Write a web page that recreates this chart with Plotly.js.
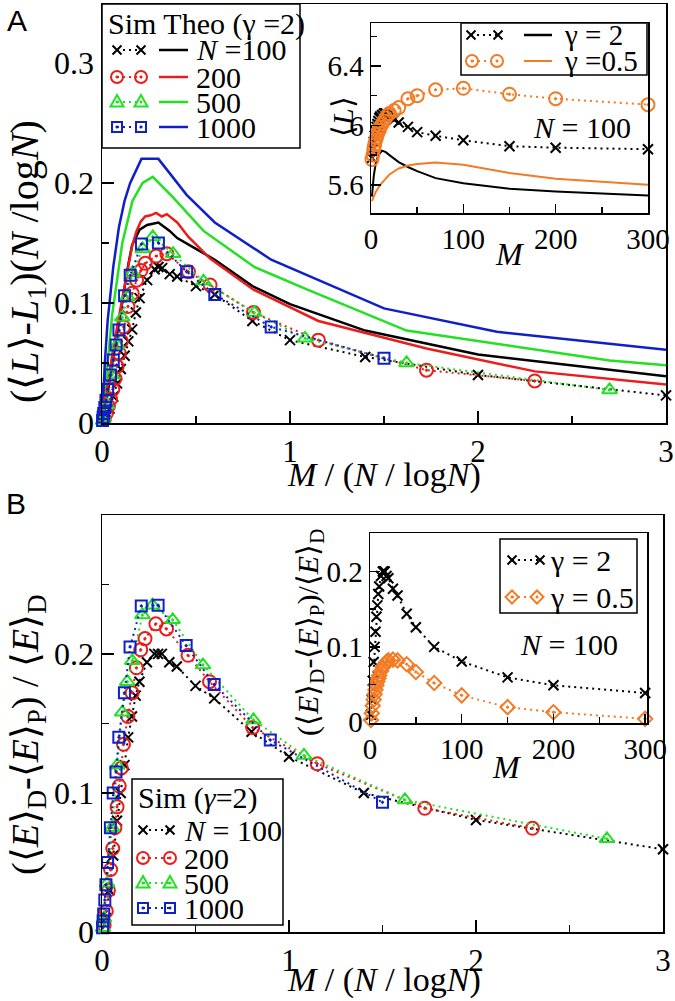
<!DOCTYPE html>
<html><head><meta charset="utf-8">
<script src="https://cdn.plot.ly/plotly-3.0.1.min.js"></script>
<style>body{margin:0;background:#fff}#chart{width:675px;height:1001px}</style>
</head><body><div id="chart"></div>
<script>
// ---------- Panel A main: simulations (x = M/(N/logN), y = (<L>-L1)(N/logN)) ----------
const A_N100_x = [0.02,0.04,0.06,0.08,0.10,0.12,0.14,0.16,0.18,0.20,0.24,0.28,0.30,0.32,0.36,0.40,0.50,0.60,0.80,1.0,1.4,2.0,3.0];
const A_N100_y = [0.005,0.012,0.022,0.033,0.045,0.056,0.068,0.078,0.092,0.104,0.119,0.128,0.130,0.129,0.124,0.122,0.114,0.107,0.085,0.069,0.055,0.040,0.023];
const A_N200_x = [0.0115,0.023,0.0345,0.046,0.0575,0.069,0.0805,0.092,0.1035,0.115,0.138,0.161,0.184,0.207,0.230,0.288,0.345,0.460,0.575,0.806,1.151,1.726,2.302];
const A_N200_y = [0.004,0.008,0.014,0.020,0.028,0.037,0.047,0.058,0.068,0.080,0.097,0.108,0.119,0.127,0.133,0.139,0.141,0.126,0.115,0.092,0.069,0.044,0.035];
const A_N500_x = [0.0054,0.0108,0.027,0.054,0.081,0.108,0.135,0.162,0.216,0.27,0.378,0.54,0.81,1.08,1.62,2.70];
const A_N500_y = [0.002,0.005,0.015,0.040,0.065,0.088,0.105,0.125,0.145,0.155,0.141,0.118,0.092,0.0705,0.050,0.0275];
const A_N1000_x = [0.003,0.006,0.009,0.015,0.021,0.030,0.045,0.060,0.075,0.090,0.12,0.15,0.21,0.30,0.45,0.60,0.90,1.50];
const A_N1000_y = [0.002,0.005,0.008,0.013,0.019,0.028,0.040,0.0525,0.065,0.0775,0.106,0.123,0.149,0.150,0.126,0.107,0.080,0.054];
// ---------- Panel A main: theory ----------
const TA_N100_x = [0,0.02,0.04,0.06,0.08,0.10,0.12,0.14,0.16,0.20,0.24,0.30,0.36,0.40,0.50,0.60,0.80,1.0,1.4,2.0,3.0];
const TA_N100_y = [0,0.015,0.035,0.055,0.075,0.095,0.115,0.132,0.148,0.161,0.165,0.167,0.160,0.154,0.145,0.136,0.114,0.099,0.077,0.057,0.039];
const TA_N200_x = [0,0.0575,0.115,0.138,0.161,0.184,0.207,0.23,0.259,0.288,0.318,0.345,0.40,0.46,0.575,0.806,1.151,1.726,2.302,3.0];
const TA_N200_y = [0,0.06,0.11,0.13,0.148,0.160,0.168,0.172,0.173,0.175,0.172,0.174,0.167,0.155,0.137,0.111,0.085,0.062,0.043,0.032];
const TA_N500_x = [0,0.054,0.108,0.162,0.216,0.27,0.378,0.54,0.81,1.08,1.62,2.70,3.0];
const TA_N500_y = [0,0.09,0.15,0.185,0.2,0.205,0.188,0.16,0.13,0.112,0.077,0.052,0.048];
const TA_N1000_x = [0,0.015,0.03,0.06,0.09,0.12,0.15,0.21,0.30,0.45,0.60,0.90,1.50,2.10,3.0];
const TA_N1000_y = [0,0.05,0.085,0.13,0.163,0.185,0.2,0.22,0.22,0.19,0.167,0.136,0.0955,0.076,0.061];
// ---------- Inset A: <L> vs M, N = 100 ----------
const IA_M_g2 = [1,2,3,4,5,6,7,8,9,10,12,14,15,16,18,20,25,30,40,50,70,100,150,200,300];
const IA_L_g2 = [5.78,5.84,5.89,5.93,5.96,5.99,6.01,6.03,6.05,6.06,6.07,6.08,6.08,6.08,6.07,6.06,6.04,6.02,5.99,5.955,5.93,5.90,5.86,5.85,5.84];
const IA_M_g05 = [1,2,3,4,5,6,7,8,9,10,12,14,16,18,20,25,30,40,50,70,100,150,200,300];
const IA_L_g05 = [5.77,5.80,5.84,5.87,5.90,5.92,5.94,5.96,5.97,5.99,6.01,6.03,6.05,6.07,6.08,6.10,6.12,6.18,6.20,6.24,6.25,6.21,6.18,6.14];
const IA_TM_g2 = [1,3,5,8,12,16,20,30,40,50,70,100,150,200,300];
const IA_TL_g2 = [5.52,5.66,5.74,5.80,5.83,5.82,5.80,5.753,5.72,5.692,5.645,5.611,5.573,5.555,5.528];
const IA_TM_g05 = [1,5,10,20,30,40,50,70,100,150,200,300];
const IA_TL_g05 = [5.49,5.55,5.60,5.67,5.71,5.73,5.74,5.75,5.735,5.68,5.64,5.60];
// ---------- Panel B main: (<E>D-<E>P)/<E>D ----------
const B_N100_x = [0.02,0.04,0.06,0.08,0.10,0.12,0.14,0.16,0.18,0.20,0.24,0.28,0.30,0.32,0.36,0.40,0.50,0.60,0.80,1.0,1.4,2.0,3.0];
const B_N100_y = [0.01,0.03,0.055,0.08,0.10,0.12,0.14,0.155,0.17,0.18,0.194,0.2,0.2,0.2,0.194,0.191,0.177,0.168,0.144,0.126,0.10,0.0806,0.0595];
const B_N200_x = [0.0115,0.023,0.0345,0.046,0.0575,0.069,0.0805,0.092,0.1035,0.115,0.138,0.161,0.184,0.207,0.230,0.288,0.345,0.460,0.575,0.806,1.151,1.726,2.302];
const B_N200_y = [0.005,0.015,0.03,0.045,0.06,0.075,0.09,0.105,0.118,0.135,0.155,0.172,0.19,0.203,0.211,0.2216,0.218,0.199,0.18,0.147,0.121,0.089,0.0746];
const B_N500_x = [0.0054,0.0108,0.027,0.054,0.081,0.108,0.135,0.162,0.216,0.27,0.378,0.54,0.81,1.08,1.62,2.70];
const B_N500_y = [0.003,0.01,0.035,0.075,0.12,0.158,0.18,0.195,0.228,0.235,0.2245,0.192,0.1525,0.127,0.095,0.067];
const B_N1000_x = [0.003,0.006,0.009,0.015,0.021,0.030,0.045,0.060,0.075,0.090,0.12,0.15,0.21,0.30,0.45,0.60,0.90,1.50];
const B_N1000_y = [0.003,0.008,0.013,0.023,0.034,0.05,0.075,0.10,0.115,0.14,0.172,0.205,0.2345,0.235,0.206,0.178,0.138,0.0933];
// ---------- Inset B: vs M, N = 100 ----------
const IB_M_g2 = [1,2,3,4,5,6,7,8,9,10,12,14,15,16,18,20,25,30,40,50,70,100,150,200,300];
const IB_E_g2 = [0.01,0.03,0.055,0.08,0.10,0.12,0.14,0.155,0.17,0.18,0.194,0.2,0.2,0.2,0.194,0.191,0.177,0.168,0.144,0.126,0.10,0.0806,0.0595,0.049,0.0387];
const IB_M_g05 = [1,2,3,4,5,6,7,8,9,10,12,14,16,18,20,25,30,40,50,70,100,150,200,300];
const IB_E_g05 = [0.003,0.012,0.022,0.030,0.037,0.043,0.049,0.054,0.058,0.062,0.068,0.073,0.077,0.080,0.082,0.083,0.082,0.077,0.0667,0.052,0.0356,0.020,0.0133,0.0045];
const LEG_A = ['<i>N</i> =100','200','500','1000'];
const LEG_B = ['<i>N</i> = 100','200','500','1000'];

// ---------- layout helpers ----------
const W=675,H=1001,ML=102,MR=9,MT=4,MB=69;
const PW=W-ML-MR, PH=H-MT-MB;
const px=x=>(x-ML)/PW, py=y=>(H-MB-y)/PH;
const FONT='Liberation Serif';
const SANS='Liberation Sans';
const BLACK='#000000', RED='#ec1c1c', GREEN='#22e022', BLUE='#1020c8', ORANGE='#f27b24';
const DOT='2px,4px';

function sim(x,y,color,symbol,size,xa,ya){
  return {x:x,y:y,xaxis:xa,yaxis:ya,type:'scatter',mode:'lines+markers',cliponaxis:false,
    line:{color:color,width:2,dash:DOT},marker:{symbol:symbol,size:size,color:color,line:{color:color,width:2}}};
}
function theo(x,y,color,xa,ya,w){
  return {x:x,y:y,xaxis:xa,yaxis:ya,type:'scatter',mode:'lines',line:{color:color,width:w||2.5}};
}
const traces=[
  theo(TA_N100_x,TA_N100_y,BLACK,'x','y'),
  theo(TA_N200_x,TA_N200_y,RED,'x','y'),
  theo(TA_N500_x,TA_N500_y,GREEN,'x','y'),
  theo(TA_N1000_x,TA_N1000_y,BLUE,'x','y'),
  sim(A_N100_x,A_N100_y,BLACK,'x-thin-open',10,'x','y'),
  sim(A_N200_x,A_N200_y,RED,'circle-open-dot',13,'x','y'),
  sim(A_N500_x,A_N500_y,GREEN,'triangle-up-open-dot',13,'x','y'),
  sim(A_N1000_x,A_N1000_y,BLUE,'square-open-dot',11,'x','y'),
  theo(IA_TM_g2,IA_TL_g2,BLACK,'x3','y3',2),
  theo(IA_TM_g05,IA_TL_g05,ORANGE,'x3','y3',2),
  sim(IA_M_g2,IA_L_g2,BLACK,'x-thin-open',10,'x3','y3'),
  sim(IA_M_g05,IA_L_g05,ORANGE,'circle-open-dot',13,'x3','y3'),
  sim(B_N100_x,B_N100_y,BLACK,'x-thin-open',10,'x2','y2'),
  sim(B_N200_x,B_N200_y,RED,'circle-open-dot',13,'x2','y2'),
  sim(B_N500_x,B_N500_y,GREEN,'triangle-up-open-dot',13,'x2','y2'),
  sim(B_N1000_x,B_N1000_y,BLUE,'square-open-dot',11,'x2','y2'),
  sim(IB_M_g2,IB_E_g2,BLACK,'x-thin-open',10,'x4','y4'),
  sim(IB_M_g05,IB_E_g05,ORANGE,'diamond-open-dot',11,'x4','y4')
];

function axis(o,fs,tl,ml,mdt){
  return Object.assign({showline:true,linecolor:'#000',linewidth:1.5,mirror:true,ticks:'inside',ticklen:tl,tickwidth:1.5,tickcolor:'#000',
    showgrid:false,zeroline:false,tickfont:{family:FONT,size:fs,color:'#000'},
    minor:{ticks:'inside',ticklen:ml,tickwidth:1.5,tickcolor:'#000',showgrid:false,dtick:mdt}},o);
}

// ---------- legend drawing (layout shapes / annotations) ----------
const shapes=[], ann=[];
function box(x0,y0,x1,y1){shapes.push({type:'rect',xref:'paper',yref:'paper',x0:px(x0),x1:px(x1),y0:py(y1),y1:py(y0),fillcolor:'#fff',line:{color:'#000',width:1.5},layer:'above'});}
function seg(x0,x1,y,color,dash,w){shapes.push({type:'line',xref:'paper',yref:'paper',x0:px(x0),x1:px(x1),y0:py(y),y1:py(y),line:{color:color,width:w||2,dash:dash||'solid'},layer:'above'});}
function mk(sym,cx,cy,color){
  const b={xref:'paper',yref:'paper',xsizemode:'pixel',ysizemode:'pixel',xanchor:px(cx),yanchor:py(cy),layer:'above',line:{color:color,width:2}};
  if(sym==='x') shapes.push(Object.assign({},b,{type:'path',path:'M-4.5,-4.5L4.5,4.5M-4.5,4.5L4.5,-4.5'}));
  if(sym==='circle') shapes.push(Object.assign({},b,{type:'circle',x0:-6,x1:6,y0:-6,y1:6}));
  if(sym==='square') shapes.push(Object.assign({},b,{type:'rect',x0:-5,x1:5,y0:-5,y1:5}));
  if(sym==='triangle') shapes.push(Object.assign({},b,{type:'path',path:'M-6.5,-4.5L6.5,-4.5L0,7Z'}));
  if(sym==='diamond') shapes.push(Object.assign({},b,{type:'path',path:'M0,-6.5L6.5,0L0,6.5L-6.5,0Z'}));
  if(sym!=='x') shapes.push(Object.assign({},b,{type:'circle',x0:-1.3,x1:1.3,y0:-1.3,y1:1.3,fillcolor:color,line:{color:color,width:0.5}}));
}
function pair(sym,xa,xb,y,color){seg(xa,xb,y,color,DOT,2);mk(sym,xa,y,color);mk(sym,xb,y,color);}
function txt(text,x,y,size,opt){ann.push(Object.assign({text:text,x:px(x),y:py(y),xref:'paper',yref:'paper',showarrow:false,
  font:{family:FONT,size:size,color:'#000'},xanchor:'center',yanchor:'middle'},opt||{}));}

// Panel A legend
box(102,4,300,148);
txt('Sim Theo (γ =2)',106,24,30,{xanchor:'left'});
const symsA=['x','circle','triangle','square'], colsA=[BLACK,RED,GREEN,BLUE], rowA=[50,77,102,127];
for(let i=0;i<4;i++){pair(symsA[i],117,141,rowA[i],colsA[i]);seg(159,188,rowA[i],colsA[i],'solid',2.5);txt(LEG_A[i],194,rowA[i],30,{xanchor:'left'});}
// Inset A legend
box(461,23,647,75);
pair('x',471,498,35,BLACK); seg(524,552,35,BLACK,'solid',2.5); txt('γ = 2',562,35,29,{xanchor:'left'});
pair('circle',472,497,61,ORANGE); seg(524,552,61,ORANGE,'solid',2); txt('γ =0.5',562,61,29,{xanchor:'left'});
// Inset B legend
box(500,539,637,613);
pair('x',512,540,560,BLACK); txt('γ = 2',548,560,30,{xanchor:'left'});
pair('diamond',512,537,597,ORANGE); txt('γ = 0.5',548,597,30,{xanchor:'left'});
// Panel B legend
box(132,779,283,925);
txt('Sim (<i>γ</i>=2)',136,798,30,{xanchor:'left'});
const rowB=[830,858,883,908];
for(let i=0;i<4;i++){pair(symsA[i],143,170,rowB[i],colsA[i]);txt(LEG_B[i],182,rowB[i],30,{xanchor:'left'});}

// Titles and labels
txt('A',17,20,30,{font:{family:SANS,size:30,color:'#000'}});
txt('B',16,503,30,{font:{family:SANS,size:30,color:'#000'}});
txt('(⟨<i>L</i>⟩-<i>L</i><sub>1</sub>)(<i>N</i> /log<i>N</i>)',27,262,40,{textangle:-90});
txt('<i>M</i> / (<i>N</i> / log<i>N</i>)',384,475,34);
txt('(⟨<i>E</i>⟩<sub>D</sub>-⟨<i>E</i>⟩<sub>P</sub>) / ⟨<i>E</i>⟩<sub>D</sub>',28,735,38,{textangle:-90});
txt('<i>M</i> / (<i>N</i> / log<i>N</i>)',384,980,34);
txt('⟨<i>L</i>⟩',342,117,30,{textangle:-90});
txt('<i>M</i>',510,254,32);
txt('<i>N</i> = 100',582,127,30);
txt('(⟨<i>E</i>⟩<sub>D</sub>-⟨<i>E</i>⟩<sub>P</sub>)/⟨<i>E</i>⟩<sub>D</sub>',310,633,30,{textangle:-90});
txt('<i>M</i>',507,767,32);
txt('<i>N</i> = 100',569,644,30);

const layout={
  width:W,height:H,margin:{l:ML,r:MR,t:MT,b:MB,pad:0},showlegend:false,
  font:{family:FONT,color:'#000'},
  paper_bgcolor:'#fff',plot_bgcolor:'#fff',
  xaxis:axis({domain:[0,1],range:[0,3],dtick:1,tick0:0,anchor:'y'},31,12,7,0.5),
  yaxis:axis({domain:[py(423),1],range:[0,0.349],dtick:0.1,tick0:0,anchor:'x'},32,12,7,0.05),
  xaxis2:axis({domain:[0,px(663)],range:[0,3],dtick:1,tick0:0,anchor:'y2'},31,12,7,0.5),
  yaxis2:axis({domain:[0,py(515)],range:[0,0.2999],dtick:0.1,tick0:0,anchor:'x2'},32,12,7,0.05),
  xaxis3:axis({domain:[px(371),px(648)],range:[0,300],dtick:100,tick0:0,anchor:'y3'},29,9,6,50),
  yaxis3:axis({domain:[py(213),py(23)],range:[5.41,6.69],dtick:0.4,tick0:5.6,anchor:'x3'},29,10,6,0.2),
  xaxis4:axis({domain:[px(370),px(647)],range:[0,302],dtick:100,tick0:0,anchor:'y4'},29,9,6,50),
  yaxis4:axis({domain:[py(723),py(533)],range:[-0.001,0.251],dtick:0.1,tick0:0,anchor:'x4'},29,10,6,0.05),
  shapes:shapes,annotations:ann
};
Plotly.newPlot('chart',traces,layout,{staticPlot:true,displayModeBar:false});
</script></body></html>
